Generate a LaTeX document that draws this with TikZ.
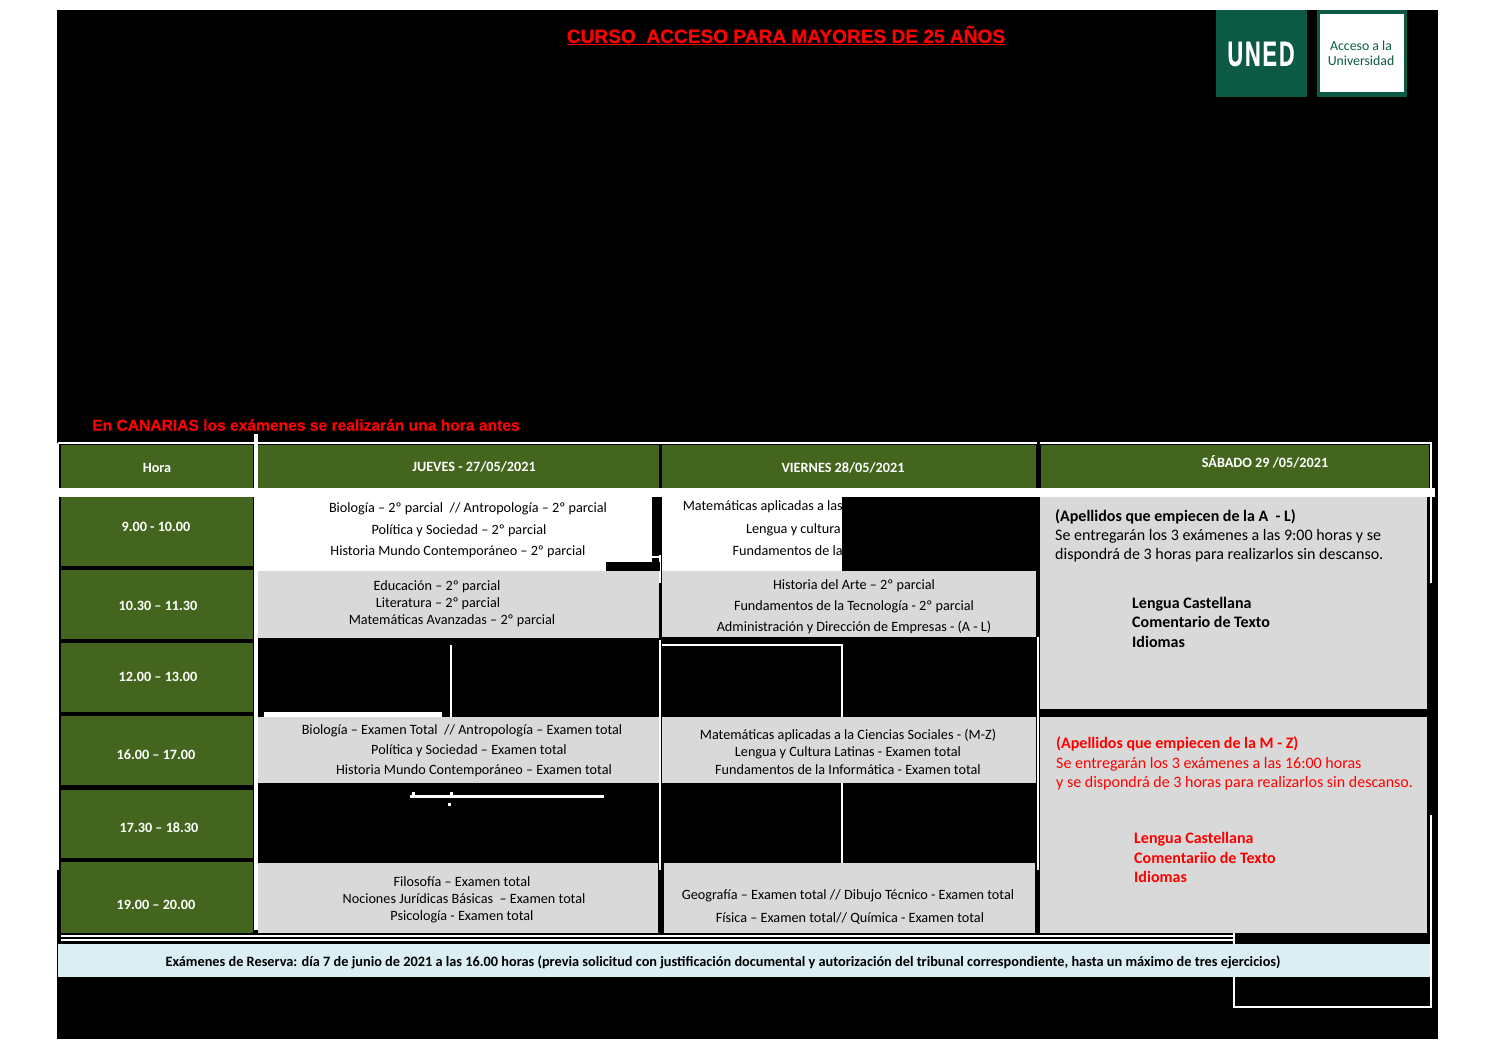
\documentclass[tikz,border=0pt]{standalone}
\usepackage{fontspec}
\setmainfont{Carlito}
\newfontfamily\titlefont[BoldFeatures={FakeBold=0.6}]{Liberation Sans}
\usetikzlibrary{positioning}

\definecolor{headgreen}{HTML}{44651E}
\definecolor{unedgreen}{HTML}{0C5A44}
\definecolor{cellgrey}{HTML}{D9D9D9}
\definecolor{stripblue}{HTML}{DAEEF3}

\tikzset{
    txt/.style={inner sep=0pt, yshift=-1.5pt, font=\fontsize{14.2}{16}\selectfont},
    hourtxt/.style={txt, yshift=1pt, text=white, font=\fontsize{14.2}{16}\selectfont\bfseries},
    boldtxt/.style={txt, font=\fontsize{14.3}{16}\selectfont\bfseries},
    sattxt/.style={txt, anchor=west, font=\fontsize{16}{18}\selectfont},
    satbold/.style={sattxt, font=\fontsize{16}{18}\selectfont\bfseries},
    rule/.style={draw=white, line width=2pt},
    warn/.style={inner sep=0pt, text=red, font=\titlefont\bfseries\fontsize{15.6}{18}\selectfont}
}

\begin{document}
\begin{tikzpicture}[x=1pt, y=-1pt]
    \useasboundingbox (0,0) rectangle (1497,1059);
    \fill[black] (57,10) rectangle (1438,1039);

    % Title and warning
    \node[inner sep=0pt, text=red, font=\titlefont\bfseries\fontsize{19.1}{22}\selectfont] (title) at (786,35.5) {\underline{CURSO\ \ ACCESO PARA MAYORES DE 25 AÑOS}};
    \node[warn] (canarias) at (306,425) {En CANARIAS los exámenes se realizarán una hora antes};

    % Logo
    \fill[unedgreen] (1216,10) rectangle (1307,97);
    \fill[unedgreen] (1317,10) rectangle (1407,97);
    \fill[white] (1320,14) rectangle (1404,92);
    \node[inner sep=0pt, text=white, font=\titlefont\bfseries\fontsize{35}{35}\selectfont] (uned) at (1261,54) {\scalebox{0.62}[1]{U\kern3pt N\kern3pt E\kern3pt D}};
    \node[inner sep=0pt, text=unedgreen, align=center, font=\fontsize{13.8}{15}\selectfont] (acceso) at (1361,53) {Acceso a la\\Universidad};

    % White frame and bands
    \fill[white] (58,488) rectangle (1435,497);
    \fill[white] (254,434) rectangle (258,930);
    \draw[rule] (58,443) -- (1037,443);
    \draw[rule] (1040,443) -- (1431,443) -- (1431,583);
    \draw[rule] (58,443) -- (58,870);
    \draw[rule] (660,640) -- (660,870);
    \draw[rule] (660,555) -- (660,583);
    \draw[rule] (1038,637) -- (1038,870);
    \draw[rule] (1431,815) -- (1431,1007) -- (1234,1007) -- (1234,933);
    \draw[rule] (61,936) -- (1234,936);
    \draw[rule] (61,940) -- (1234,940);

    % Header row
    \fill[headgreen] (61,445) rectangle (253,488);
    \fill[headgreen] (258,445) rectangle (659,488);
    \fill[headgreen] (662,445) rectangle (1036,488);
    \fill[headgreen] (1041,445) rectangle (1429,488);
    \node[hourtxt] (hora) at (157,467) {Hora};
    \node[hourtxt] (jueves) at (474,466) {JUEVES - 27/05/2021};
    \node[hourtxt] (viernes) at (843,467) {VIERNES 28/05/2021};
    \node[hourtxt] (sabado) at (1265,461) {SÁBADO 29 /05/2021};

    % Hour column
    \fill[headgreen] (61,497) rectangle (253,566);
    \fill[headgreen] (61,570) rectangle (253,639);
    \fill[headgreen] (61,643) rectangle (253,712);
    \fill[headgreen] (61,716) rectangle (253,785);
    \fill[headgreen] (61,790) rectangle (253,858);
    \fill[headgreen] (61,862) rectangle (253,933);
    \node[hourtxt] (h1) at (156,526) {9.00 - 10.00};
    \node[hourtxt] (h2) at (158,605) {10.30 – 11.30};
    \node[hourtxt] (h3) at (158,676) {12.00 – 13.00};
    \node[hourtxt] (h4) at (156,754) {16.00 – 17.00};
    \node[hourtxt] (h5) at (159,827) {17.30 – 18.30};
    \node[hourtxt] (h6) at (156,904) {19.00 – 20.00};

    % White cells of the first row
    \fill[white] (258,488) rectangle (652,572);
    \fill[black] (606,562) rectangle (660,571);
    \fill[white] (652,556) rectangle (660,558);
    \fill[white] (662,488) rectangle (842,572);

    % Grey cells
    \fill[cellgrey] (258,571) rectangle (659,638);
    \fill[cellgrey] (662,571) rectangle (1036,637);
    \fill[cellgrey] (258,717) rectangle (659,783);
    \fill[cellgrey] (662,717) rectangle (1036,783);
    \fill[cellgrey] (258,863) rectangle (658,933);
    \fill[cellgrey] (664,863) rectangle (1035,933);
    \fill[cellgrey] (1040,497) rectangle (1427,709);
    \fill[cellgrey] (1040,717) rectangle (1427,933);

    % White marks over the black cells
    \draw[rule] (451,645) -- (451,717);
    \draw[rule] (662,645) -- (842,645) -- (842,717);
    \draw[rule] (842,783) -- (842,863);
    \fill[white] (264,712) rectangle (442,717);
    \fill[white] (410,795) rectangle (604,798);
    \fill[white] (412,792) rectangle (415,795);
    \fill[white] (450,792) rectangle (453,795);
    \fill[white] (448,803) rectangle (451,806);

    % Reserve strip
    \fill[stripblue] (58,944) rectangle (1430,977);
    \node[boldtxt] (reserva) at (723,961) {Exámenes de Reserva: día 7 de junio de 2021 a las 16.00 horas (previa solicitud con justificación documental y autorización del tribunal correspondiente, hasta un máximo de tres ejercicios)};

    % Thursday
    \node[txt] (j1a) at (468,507) {Biología – 2º parcial\ \ // Antropología – 2º parcial};
    \node[txt] (j1b) at (459,529) {Política y Sociedad – 2º parcial};
    \node[txt] (j1c) at (458,550) {Historia Mundo Contemporáneo – 2º parcial};
    \node[txt] (j2a) at (437,585) {Educación – 2º parcial};
    \node[txt] (j2b) at (438,602) {Literatura – 2º parcial};
    \node[txt] (j2c) at (452,619) {Matemáticas Avanzadas – 2º parcial};
    \node[txt] (j4a) at (462,729) {Biología – Examen Total\ \ // Antropología – Examen total};
    \node[txt] (j4b) at (469,749) {Política y Sociedad – Examen total};
    \node[txt] (j4c) at (474,769) {Historia Mundo Contemporáneo – Examen total};
    \node[txt] (j6a) at (462,880) {Filosofía – Examen total};
    \node[txt] (j6b) at (464,897.5) {Nociones Jurídicas Básicas\ \ – Examen total};
    \node[txt] (j6c) at (462,915) {Psicología - Examen total};

    % Friday
    \node[txt, anchor=east] (v1a) at (843,505) {Matemáticas aplicadas a las};
    \node[txt, anchor=east] (v1b) at (841,528) {Lengua y cultura};
    \node[txt, anchor=east] (v1c) at (843,549) {Fundamentos de la};
    \node[txt] (v2a) at (854,584) {Historia del Arte – 2º parcial};
    \node[txt] (v2b) at (854,605) {Fundamentos de la Tecnología - 2º parcial};
    \node[txt] (v2c) at (854,626) {Administración y Dirección de Empresas - (A - L)};
    \node[txt] (v4a) at (848,734) {Matemáticas aplicadas a la Ciencias Sociales - (M-Z)};
    \node[txt] (v4b) at (848,751) {Lengua y Cultura Latinas - Examen total};
    \node[txt] (v4c) at (848,768) {Fundamentos de la Informática - Examen total};
    \node[txt] (v6a) at (848,894) {Geografía – Examen total // Dibujo Técnico - Examen total};
    \node[txt] (v6b) at (850,917) {Física – Examen total// Química - Examen total};

    % Saturday
    \node[satbold] (s1a) at (1055,515) {(Apellidos que empiecen de la A\ \ - L)};
    \node[sattxt] (s1b) at (1055,535) {Se entregarán los 3 exámenes a las 9:00 horas y se};
    \node[sattxt] (s1c) at (1055,554) {dispondrá de 3 horas para realizarlos sin descanso.};
    \node[satbold] (s1d) at (1132,602.5) {Lengua Castellana};
    \node[satbold] (s1e) at (1132,620) {Comentario de Texto};
    \node[satbold] (s1f) at (1132,640) {Idiomas};
    \node[satbold, text=red] (s2a) at (1056,742) {(Apellidos que empiecen de la M - Z)};
    \node[sattxt, text=red] (s2b) at (1056,763) {Se entregarán los 3 exámenes a las 16:00 horas};
    \node[sattxt, text=red] (s2c) at (1056,782) {y se dispondrá de 3 horas para realizarlos sin descanso.};
    \node[satbold, text=red] (s2d) at (1134,838) {Lengua Castellana};
    \node[satbold, text=red] (s2e) at (1134,856) {Comentariio de Texto};
    \node[satbold, text=red] (s2f) at (1134,875) {Idiomas};
\end{tikzpicture}
\end{document}
